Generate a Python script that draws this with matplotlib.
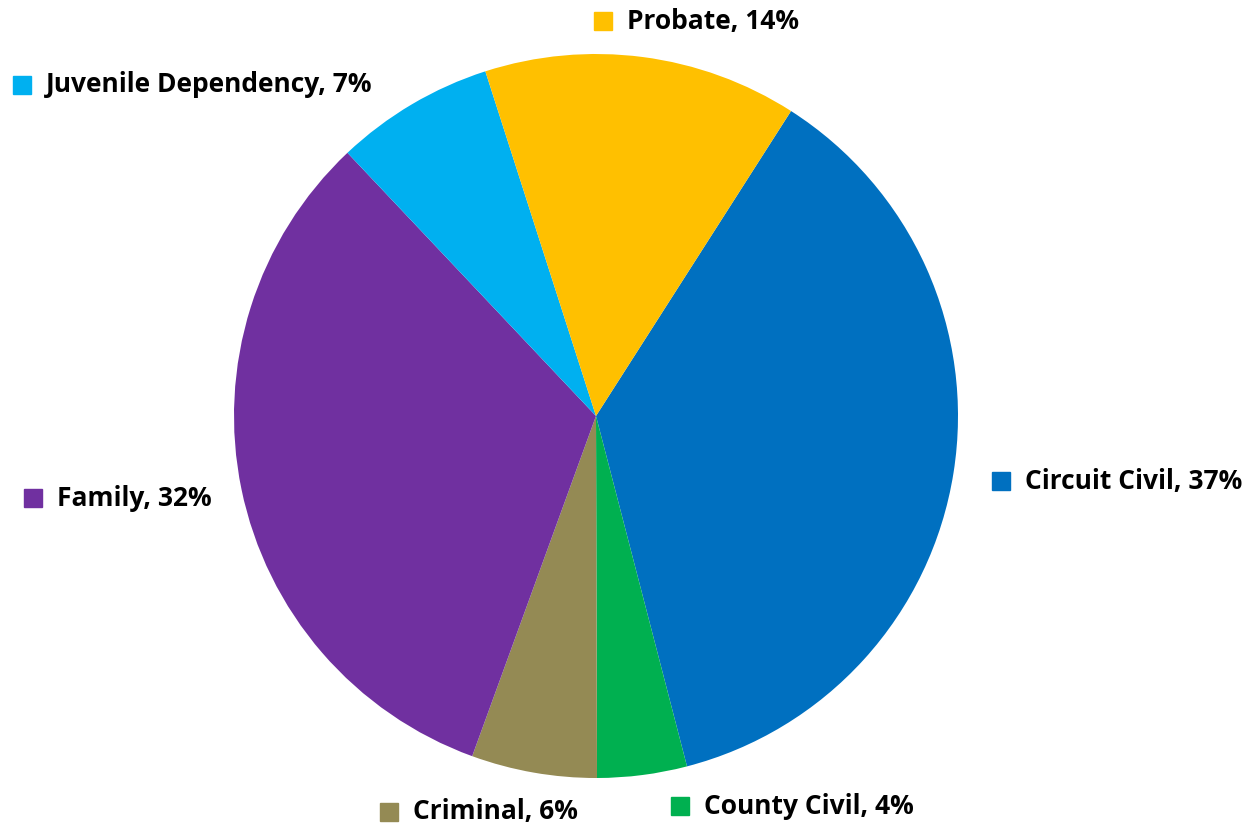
import matplotlib
matplotlib.use("Agg")
import matplotlib.pyplot as plt

# case types, clockwise from the Probate/Circuit Civil boundary
categories = ["Circuit Civil", "County Civil", "Criminal", "Family", "Juvenile Dependency", "Probate"]
shares = [36.9, 4.0, 5.6, 32.4, 7.1, 14.0]
pct_labels = ["37%", "4%", "6%", "32%", "7%", "14%"]
colors = ["#0070C0", "#00B050", "#948A54", "#7030A0", "#00B0F0", "#FFC000"]

# label layout in pixels (square centre x, centre y), picked by eye
label_px = [(1001, 481), (680, 806), (389, 812), (33, 498), (22, 85), (603, 21)]

W, H = 1251, 827
cx, cy, R = 596, 416, 362  # pie centre and radius in pixels

fig = plt.figure(figsize=(W / 100, H / 100), dpi=100)
ax = fig.add_axes([0, 0, 1, 1])
ax.pie(shares, colors=colors, startangle=90 - 32.6, counterclock=False,
       radius=1, center=(0, 0), wedgeprops=dict(linewidth=0))
ax.set_xlim(-cx / R, (W - cx) / R)
ax.set_ylim(-(H - cy) / R, cy / R)
ax.set_aspect("equal")
ax.axis("off")


def px2data(px, py):
    return (px - cx) / R, (cy - py) / R


for name, pct, col, (px, py) in zip(categories, pct_labels, colors, label_px):
    x, y = px2data(px, py)
    ax.plot(x, y, marker="s", markersize=13, color=col, linestyle="none", clip_on=False)
    tx, ty = px2data(px + 24, py)
    ax.text(tx, ty, f"{name}, {pct}", fontsize=19, fontweight="bold", family="Open Sans",
            ha="left", va="center", color="black")

fig.savefig("out.png", dpi=100)
